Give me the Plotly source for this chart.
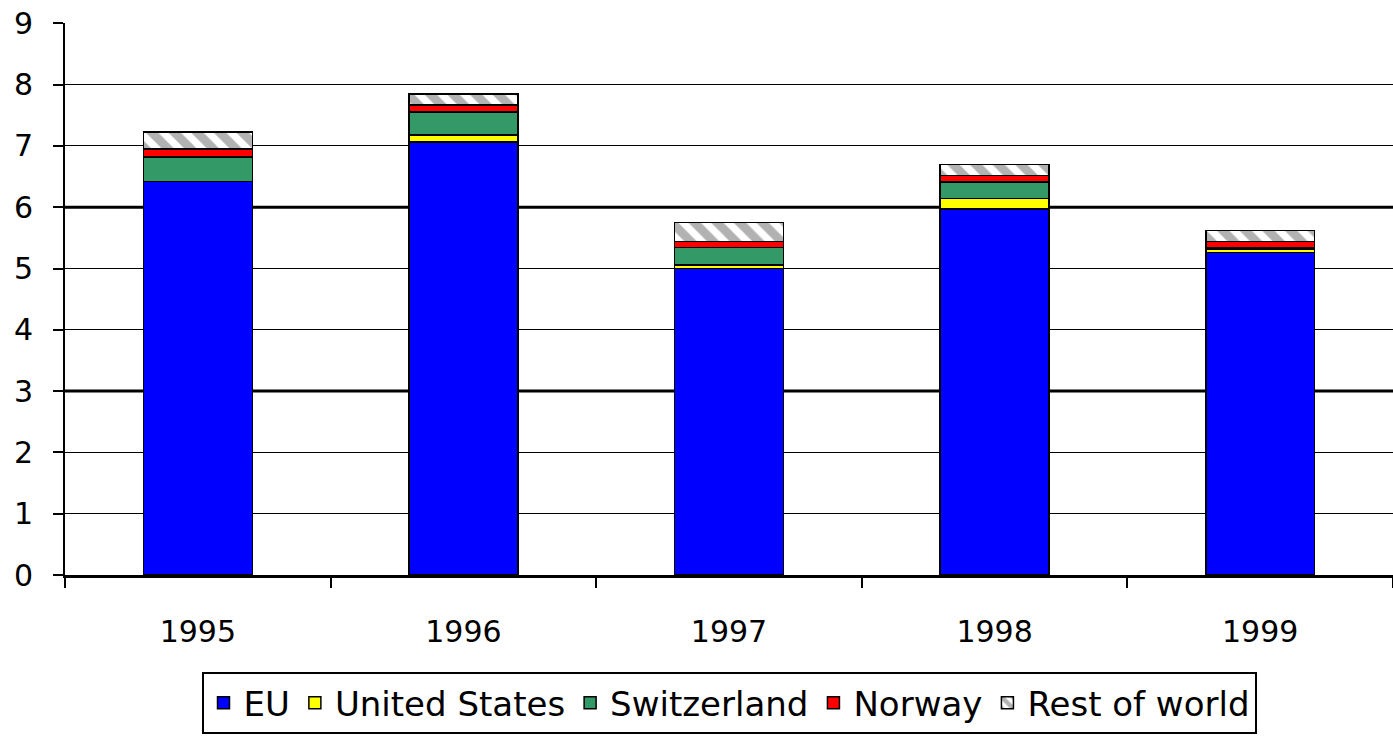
import plotly.graph_objects as go

years = ["1995", "1996", "1997", "1998", "1999"]
eu = [6.42, 7.06, 5.00, 5.97, 5.26]
united_states = [0.00, 0.12, 0.06, 0.17, 0.06]
switzerland = [0.40, 0.37, 0.28, 0.27, 0.02]
norway = [0.13, 0.12, 0.10, 0.11, 0.10]
rest_of_world = [0.28, 0.18, 0.31, 0.18, 0.18]

y_ticks = [0, 1, 2, 3, 4, 5, 6, 7, 8, 9]
bold_grid = [3, 6]

FONT = "DejaVu Sans"

fig = go.Figure()
line = dict(color="black", width=1.5)
fig.add_trace(go.Bar(name="EU", x=years, y=eu, marker=dict(color="#0000FF", line=line)))
fig.add_trace(go.Bar(name="United States", x=years, y=united_states, marker=dict(color="#FFFF00", line=line)))
fig.add_trace(go.Bar(name="Switzerland", x=years, y=switzerland, marker=dict(color="#339966", line=line)))
fig.add_trace(go.Bar(name="Norway", x=years, y=norway, marker=dict(color="#FF0000", line=line)))
fig.add_trace(go.Bar(name="Rest of world", x=years, y=rest_of_world,
                     marker=dict(color="white", line=line,
                                 pattern=dict(shape="\\", fgcolor="#666666", bgcolor="white",
                                              size=16, solidity=0.55))))

for g in bold_grid:
    fig.add_shape(type="line", xref="paper", yref="y", x0=0, x1=1, y0=g, y1=g,
                  line=dict(color="black", width=3), layer="below")

fig.update_layout(
    barmode="stack",
    bargap=0.59,
    width=1393, height=743,
    margin=dict(l=65, r=0, t=23, b=168, autoexpand=False),
    paper_bgcolor="white",
    plot_bgcolor="white",
    font=dict(family=FONT, color="black", size=30),
    showlegend=True,
    legend=dict(orientation="h", x=0.5, xanchor="center", y=-0.176, yanchor="top",
                traceorder="normal", bordercolor="black", borderwidth=2,
                font=dict(family=FONT, size=34, color="black"),
                itemwidth=30),
    xaxis=dict(type="category", range=[-0.5, 4.5], showgrid=False, showline=True,
               linecolor="black", linewidth=2.5, ticks="outside", tickson="boundaries",
               ticklen=10, tickcolor="black", tickwidth=1.5, automargin=False,
               tickfont=dict(family=FONT, size=30, color="black"),
               ticklabelstandoff=28),
    yaxis=dict(range=[0, 9.005], tickvals=y_ticks, showgrid=True, gridcolor="black",
               gridwidth=1.2, showline=True, linecolor="black", linewidth=2,
               ticks="outside", ticklen=10, tickcolor="black", tickwidth=1.5,
               zeroline=False, automargin=False, ticklabeloverflow="allow",
               tickfont=dict(family=FONT, size=30, color="black"),
               ticklabelstandoff=14),
)

fig.write_html("out.html", config={"displayModeBar": False},
               post_script="document.body.style.margin='0';document.body.style.overflow='hidden';")
